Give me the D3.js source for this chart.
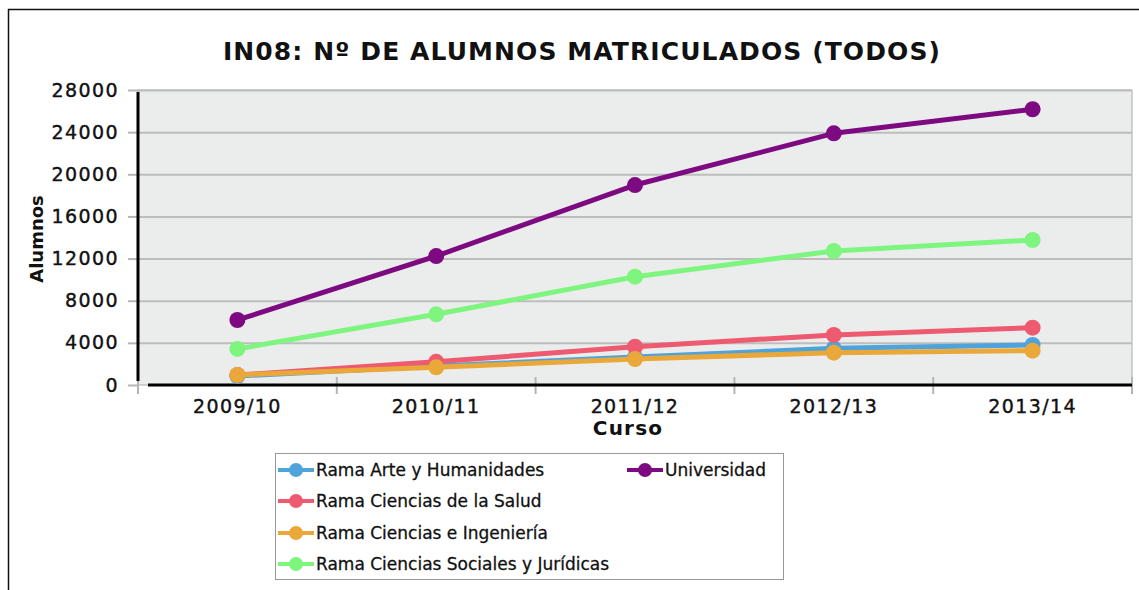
<!DOCTYPE html>
<html>
<head>
<meta charset="utf-8">
<script src="https://cdn.jsdelivr.net/npm/d3@7"></script>
<style>
  html, body { margin: 0; padding: 0; background: #fff; }
  svg { display: block; }
</style>
</head>
<body>
<div id="chart"></div>
<script>
const cursos = ['2009/10', '2010/11', '2011/12', '2012/13', '2013/14']
const yTicks = [0, 4000, 8000, 12000, 16000, 20000, 24000, 28000]

const arteHumanidades = [850, 1800, 2650, 3480, 3800]
const cienciasSalud = [950, 2200, 3640, 4750, 5440]
const cienciasIngenieria = [950, 1680, 2470, 3070, 3260]
const cienciasSociales = [3420, 6710, 10280, 12720, 13760]
const universidad = [6170, 12240, 18980, 23890, 26170]

const seriesNames = [
  'Rama Arte y Humanidades',
  'Rama Ciencias de la Salud',
  'Rama Ciencias e Ingeniería',
  'Rama Ciencias Sociales y Jurídicas',
  'Universidad',
]
const seriesColors = ['#4fa3db', '#ee5a6f', '#eba83a', '#7ef57e', '#7d0a80']
const seriesValues = [arteHumanidades, cienciasSalud, cienciasIngenieria, cienciasSociales, universidad]

const W = 1139
const H = 590
const FONT = 'DejaVu Sans, Verdana, sans-serif'

const plot = { left: 138, right: 1132, top: 90, bottom: 385 }

const svg = d3.select('#chart').append('svg').attr('width', W).attr('height', H)

// outer frame
svg.append('line').attr('x1', 8).attr('y1', 9.5).attr('x2', W).attr('y2', 9.5)
  .attr('stroke', '#111').attr('stroke-width', 1.5)
svg.append('line').attr('x1', 8.5).attr('y1', 9).attr('x2', 8.5).attr('y2', H)
  .attr('stroke', '#111').attr('stroke-width', 1.5)

svg.append('text')
  .attr('x', 582).attr('y', 60)
  .attr('text-anchor', 'middle')
  .attr('font-family', FONT).attr('font-weight', 'bold').attr('font-size', 25)
  .attr('letter-spacing', 1.1)
  .attr('fill', '#111')
  .text('IN08: Nº DE ALUMNOS MATRICULADOS (TODOS)')

const x = d3.scaleBand().domain(cursos).range([plot.left, plot.right])
const y = d3.scaleLinear().domain([0, 28000]).range([plot.bottom, plot.top])

svg.append('rect')
  .attr('x', plot.left).attr('y', plot.top)
  .attr('width', plot.right - plot.left).attr('height', plot.bottom - plot.top)
  .attr('fill', '#ebeded')
  .attr('stroke', '#aaa').attr('stroke-width', 1)

// y grid + axis
const yAxis = svg.append('g')
  .attr('transform', `translate(${plot.left},0)`)
  .call(d3.axisLeft(y).tickValues(yTicks).tickSize(10).tickPadding(9).tickFormat(d3.format('d')))
yAxis.select('.domain').remove()
yAxis.selectAll('.tick line').attr('stroke', '#b5b5b5').attr('stroke-width', 2)
yAxis.selectAll('.tick text')
  .attr('font-family', FONT).attr('font-size', 19).attr('letter-spacing', 1.4)
  .attr('fill', '#111').attr('stroke', '#111').attr('stroke-width', 0.4)
yAxis.selectAll('.tick').append('line')
  .attr('x1', 0).attr('x2', plot.right - plot.left)
  .attr('stroke', d => d === 0 ? 'none' : '#bdbdbd').attr('stroke-width', 2)

// x ticks at band boundaries
const bounds = cursos.map(c => x(c)).concat([plot.right])
svg.append('g').selectAll('line').data(bounds).join('line')
  .attr('x1', d => d).attr('x2', d => d)
  .attr('y1', plot.bottom - 8).attr('y2', plot.bottom + 9)
  .attr('stroke', '#b5b5b5').attr('stroke-width', 2)

// axis lines
svg.append('line')
  .attr('x1', plot.left + 10).attr('x2', plot.right)
  .attr('y1', plot.bottom).attr('y2', plot.bottom)
  .attr('stroke', '#000').attr('stroke-width', 3)
svg.append('line')
  .attr('x1', plot.left).attr('x2', plot.left)
  .attr('y1', plot.top + 2).attr('y2', plot.bottom - 4)
  .attr('stroke', '#000').attr('stroke-width', 3)

svg.append('g').selectAll('text').data(cursos).join('text')
  .attr('x', d => x(d) + x.bandwidth() / 2)
  .attr('y', 413)
  .attr('text-anchor', 'middle')
  .attr('font-family', FONT).attr('font-size', 19).attr('letter-spacing', 1.4)
  .attr('fill', '#111').attr('stroke', '#111').attr('stroke-width', 0.4)
  .text(d => d)

svg.append('text')
  .attr('x', 628).attr('y', 435)
  .attr('text-anchor', 'middle')
  .attr('font-family', FONT).attr('font-weight', 'bold').attr('font-size', 20).attr('letter-spacing', 1.2)
  .attr('fill', '#111')
  .text('Curso')

svg.append('text')
  .attr('transform', 'translate(43,239) rotate(-90)')
  .attr('text-anchor', 'middle')
  .attr('font-family', FONT).attr('font-weight', 'bold').attr('font-size', 18).attr('fill', '#111')
  .text('Alumnos')

// series
const line = d3.line().x((d, i) => x(cursos[i]) + x.bandwidth() / 2).y(d => y(d))
const drawOrder = [4, 3, 0, 1, 2]
drawOrder.forEach(s => {
  const g = svg.append('g')
  g.append('path')
    .attr('d', line(seriesValues[s]))
    .attr('fill', 'none')
    .attr('stroke', seriesColors[s]).attr('stroke-width', 5)
    .attr('stroke-linejoin', 'round')
  g.selectAll('circle').data(seriesValues[s]).join('circle')
    .attr('cx', (d, i) => x(cursos[i]) + x.bandwidth() / 2)
    .attr('cy', d => y(d))
    .attr('r', 8)
    .attr('fill', seriesColors[s])
})

// legend
const legend = svg.append('g')
legend.append('rect')
  .attr('x', 275.5).attr('y', 453.5).attr('width', 508).attr('height', 126)
  .attr('fill', '#fff').attr('stroke', '#999').attr('stroke-width', 1)

const legendPos = [
  { x: 278, y: 470 },
  { x: 278, y: 501 },
  { x: 278, y: 533 },
  { x: 278, y: 564 },
  { x: 627, y: 470 },
]
seriesNames.forEach((name, i) => {
  const p = legendPos[i]
  const item = legend.append('g').attr('transform', `translate(${p.x},${p.y})`)
  item.append('line').attr('x1', 0).attr('x2', 36).attr('y1', 0).attr('y2', 0)
    .attr('stroke', seriesColors[i]).attr('stroke-width', 4)
  item.append('circle').attr('cx', 18).attr('cy', 0).attr('r', 7).attr('fill', seriesColors[i])
  item.append('text')
    .attr('x', 38).attr('y', 6)
    .attr('font-family', FONT).attr('font-size', 17)
    .attr('fill', '#111').attr('stroke', '#111').attr('stroke-width', 0.3)
    .text(name)
})
</script>
</body>
</html>
